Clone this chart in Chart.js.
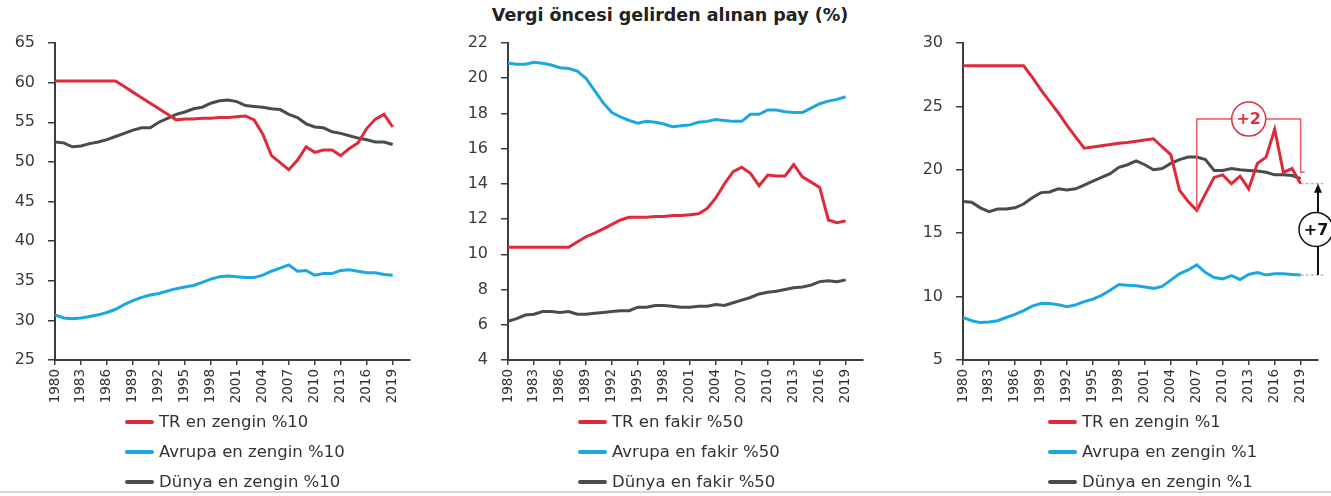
<!DOCTYPE html>
<html>
<head>
<meta charset="utf-8">
<script src="https://cdn.jsdelivr.net/npm/chart.js@4.4.1/dist/chart.umd.min.js"></script>
<style>
  body { margin:0; background:#fff; width:1331px; height:496px; overflow:hidden; position:relative; font-family:"DejaVu Sans", sans-serif; }
  #title { position:absolute; top:0; left:0; width:1340px; text-align:center; font-weight:bold; font-size:17.5px; line-height:31px; color:#222; }
  canvas { position:absolute; top:0; }
  .legend { position:absolute; top:407px; font-size:16.5px; color:#333; }
  .legend div { height:30px; line-height:30px; white-space:nowrap; }
  .legend span { display:inline-block; width:29px; height:4px; border-radius:2px; vertical-align:middle; margin-right:5px; position:relative; top:-1px; }
  #foot { position:absolute; left:0; top:491px; width:1331px; height:0; border-top:2px solid #d6d6d6; }
</style>
</head>
<body>
<div id="title">Vergi öncesi gelirden alınan pay (%)</div>
<canvas id="c1" width="420" height="410" style="left:0px"></canvas>
<canvas id="c2" width="440" height="410" style="left:440px"></canvas>
<canvas id="c3" width="431" height="410" style="left:900px"></canvas>
<div class="legend" id="l1" style="left:125px"></div>
<div class="legend" id="l2" style="left:578px"></div>
<div class="legend" id="l3" style="left:1048px"></div>
<div id="foot"></div>
<script>
const years = [1980,1981,1982,1983,1984,1985,1986,1987,1988,1989,1990,1991,1992,1993,1994,1995,1996,1997,1998,1999,
               2000,2001,2002,2003,2004,2005,2006,2007,2008,2009,2010,2011,2012,2013,2014,2015,2016,2017,2018,2019];
const xTicks = [1980,1983,1986,1989,1992,1995,1998,2001,2004,2007,2010,2013,2016,2019];

// panel 1: en zengin %10
const trTop10 = [60.2,60.2,60.2,60.2,60.2,60.2,60.2,60.2,59.5,58.8,58.1,57.4,56.7,56.0,55.3,
                 55.4,55.4,55.5,55.5,55.6,55.6,55.7,55.8,55.3,53.5,50.8,49.9,49.0,50.2,51.9,
                 51.2,51.5,51.5,50.8,51.7,52.4,54.2,55.4,56.0,54.4];
const euTop10 = [30.7,30.3,30.2,30.3,30.5,30.7,31.0,31.4,32.0,32.5,32.9,33.2,33.4,33.7,34.0,34.2,34.4,34.8,35.2,35.5,
                 35.6,35.5,35.4,35.4,35.7,36.2,36.6,37.0,36.2,36.3,35.7,35.9,35.9,36.3,36.4,36.2,36.0,36.0,35.8,35.7];
const wTop10  = [52.5,52.4,51.9,52.0,52.3,52.5,52.8,53.2,53.6,54.0,54.3,54.3,55.0,55.5,56.0,56.3,56.7,56.9,57.4,57.7,
                 57.8,57.6,57.1,57.0,56.9,56.7,56.6,56.0,55.6,54.8,54.4,54.3,53.8,53.6,53.3,53.0,52.8,52.5,52.5,52.2];

// panel 2: en fakir %50
const trBot50 = [10.4,10.4,10.4,10.4,10.4,10.4,10.4,10.4,10.7,11.0,11.2,11.45,11.7,11.95,12.1,
                 12.1,12.1,12.15,12.15,12.2,12.2,12.25,12.3,12.6,13.2,14.0,14.7,14.95,14.6,13.9,
                 14.5,14.45,14.45,15.1,14.4,14.1,13.8,11.95,11.8,11.9];
const euBot50 = [20.85,20.8,20.8,20.9,20.85,20.75,20.6,20.55,20.4,20.0,19.3,18.6,18.05,17.8,17.6,17.45,17.55,17.5,17.4,17.25,
                 17.3,17.35,17.5,17.55,17.65,17.6,17.55,17.55,17.95,17.95,18.2,18.2,18.1,18.05,18.05,18.3,18.55,18.7,18.8,18.95];
const wBot50  = [6.2,6.35,6.55,6.6,6.75,6.75,6.7,6.75,6.6,6.6,6.65,6.7,6.75,6.8,6.8,7.0,7.0,7.1,7.1,7.05,
                 7.0,7.0,7.05,7.05,7.15,7.1,7.25,7.4,7.55,7.75,7.85,7.9,8.0,8.1,8.15,8.25,8.45,8.5,8.45,8.55];

// panel 3: en zengin %1
const trTop1 = [28.2,28.2,28.2,28.2,28.2,28.2,28.2,28.2,27.3,26.3,25.4,24.5,23.5,22.6,21.7,
                21.8,21.9,22.0,22.1,22.15,22.25,22.35,22.45,21.8,21.2,18.4,17.5,16.8,18.1,19.4,
                19.6,18.9,19.5,18.5,20.5,21.0,23.2,19.8,20.1,18.9];
const euTop1 = [8.35,8.1,7.95,8.0,8.1,8.35,8.6,8.9,9.25,9.45,9.45,9.35,9.2,9.35,9.6,9.8,10.1,10.5,10.95,10.9,
                10.85,10.75,10.65,10.8,11.3,11.8,12.1,12.5,11.9,11.5,11.4,11.65,11.35,11.75,11.9,11.7,11.8,11.8,11.75,11.7];
const wTop1  = [17.5,17.45,17.0,16.7,16.9,16.9,17.0,17.3,17.8,18.2,18.25,18.5,18.4,18.5,18.8,19.1,19.4,19.7,20.2,20.4,
                20.7,20.4,20.0,20.1,20.5,20.8,21.0,21.0,20.8,19.95,19.95,20.1,20.0,19.95,19.9,19.8,19.6,19.6,19.55,19.3];

// annotation levels on panel 3 (values)
const bracketTop = 24.0;
const bracketRightEnd = 19.8;

const RED = '#dd2b3c', BLUE = '#1ba8e0', GREY = '#4b4b4b', AXIS = '#3c3c3c';

function panel(id, legendId, yMin, yMax, yStep, yWidth, padRight, series, extra) {
  const chart = new Chart(document.getElementById(id).getContext('2d'), {
    type: 'line',
    data: {
      datasets: series.map(s => ({
        label: s.label,
        data: years.map((y, i) => ({ x: y, y: s.data[i] })),
        borderColor: s.color, borderWidth: 3, pointRadius: 0, tension: 0, fill: false
      }))
    },
    options: {
      responsive: false, animation: false,
      layout: { padding: { top: 43, right: padRight, left: 0, bottom: 0 } },
      plugins: { legend: { display: false }, tooltip: { enabled: false } },
      scales: {
        x: {
          type: 'linear', min: 1980, max: 2021,
          afterBuildTicks: s => { s.ticks = xTicks.map(v => ({ value: v })); },
          afterFit: s => { s.height = 50; },
          grid: { drawOnChartArea: false, drawTicks: true, tickLength: 5, color: AXIS, lineWidth: 1.5 },
          border: { display: true, color: AXIS, width: 2 },
          ticks: { autoSkip: false, minRotation: 90, maxRotation: 90, padding: 4, color: '#333',
                   font: { family: 'DejaVu Sans', size: 13.5 }, callback: v => String(v) }
        },
        y: {
          min: yMin, max: yMax,
          afterFit: s => { s.width = yWidth; },
          grid: { drawOnChartArea: false, drawTicks: true, tickLength: 7, color: AXIS, lineWidth: 1.5 },
          border: { display: true, color: AXIS, width: 2 },
          ticks: { stepSize: yStep, padding: 13, color: '#3a3a3a', font: { family: 'DejaVu Sans', size: 16 } }
        }
      }
    },
    plugins: extra ? [extra] : []
  });
  document.getElementById(legendId).innerHTML = series.map(s =>
    `<div><span style="background:${s.color}"></span>${s.label}</div>`).join('');
  return chart;
}

function circleLabel(ctx, x, y, txt, color) {
  ctx.beginPath();
  ctx.arc(x, y, 17, 0, Math.PI * 2);
  ctx.fillStyle = '#fff'; ctx.fill();
  ctx.lineWidth = 1.5; ctx.strokeStyle = color; ctx.stroke();
  ctx.fillStyle = color;
  ctx.font = 'bold 16px "DejaVu Sans"';
  ctx.textAlign = 'center'; ctx.textBaseline = 'middle';
  ctx.fillText(txt, x, y + 1);
}

const annot = {
  id: 'annot',
  afterDatasetsDraw(chart) {
    const { ctx, scales: { x, y } } = chart;
    const last = years.length - 1;
    const i07 = years.indexOf(2007);
    ctx.save();
    // +2 bracket
    const xl = x.getPixelForValue(2007), xr = x.getPixelForValue(2019);
    const yt = y.getPixelForValue(bracketTop);
    ctx.strokeStyle = '#e65a66'; ctx.lineWidth = 1.5;
    ctx.beginPath();
    ctx.moveTo(xl, y.getPixelForValue(trTop1[i07]));
    ctx.lineTo(xl, yt); ctx.lineTo(xr, yt);
    ctx.lineTo(xr, y.getPixelForValue(bracketRightEnd));
    ctx.lineTo(xr + 4, y.getPixelForValue(bracketRightEnd));
    ctx.stroke();
    circleLabel(ctx, x.getPixelForValue(2013), yt, '+2', '#e0303f');
    // +7 arrow
    const yHi = y.getPixelForValue(trTop1[last]), yLo = y.getPixelForValue(euTop1[last]);
    const xa = x.getPixelForValue(2021);
    ctx.setLineDash([3, 2]); ctx.strokeStyle = '#999'; ctx.lineWidth = 1;
    ctx.beginPath();
    ctx.moveTo(xr, yHi); ctx.lineTo(xa + 5, yHi);
    ctx.moveTo(xr, yLo); ctx.lineTo(xa + 5, yLo);
    ctx.stroke();
    ctx.setLineDash([]);
    ctx.strokeStyle = '#111'; ctx.lineWidth = 2;
    ctx.beginPath(); ctx.moveTo(xa, yLo); ctx.lineTo(xa, yHi + 6); ctx.stroke();
    ctx.fillStyle = '#111';
    ctx.beginPath(); ctx.moveTo(xa, yHi); ctx.lineTo(xa - 4, yHi + 9); ctx.lineTo(xa + 4, yHi + 9); ctx.closePath(); ctx.fill();
    circleLabel(ctx, xa - 2, (yHi + yLo) / 2, '+7', '#111');
    ctx.restore();
  }
};

panel('c1', 'l1', 25, 65, 5, 55, 10, [
  { label: 'TR en zengin %10', data: trTop10, color: RED },
  { label: 'Avrupa en zengin %10', data: euTop10, color: BLUE },
  { label: 'Dünya en zengin %10', data: wTop10, color: GREY }
]);
panel('c2', 'l2', 4, 22, 2, 68, 17, [
  { label: 'TR en fakir %50', data: trBot50, color: RED },
  { label: 'Avrupa en fakir %50', data: euBot50, color: BLUE },
  { label: 'Dünya en fakir %50', data: wBot50, color: GREY }
]);
panel('c3', 'l3', 5, 30, 5, 63, 13, [
  { label: 'TR en zengin %1', data: trTop1, color: RED },
  { label: 'Avrupa en zengin %1', data: euTop1, color: BLUE },
  { label: 'Dünya en zengin %1', data: wTop1, color: GREY }
], annot);
</script>
</body>
</html>
